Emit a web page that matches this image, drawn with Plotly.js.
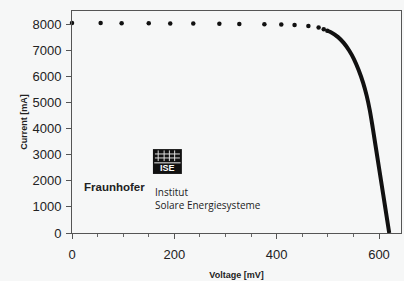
<!DOCTYPE html>
<html>
<head>
<meta charset="utf-8">
<script src="https://cdn.plot.ly/plotly-3.0.1.min.js"></script>
<style>
html,body{margin:0;padding:0;background:#f6f7f7;}
#chart{width:404px;height:281px;}
</style>
</head>
<body>
<div id="chart"></div>
<script>
// Sparse measured points (mV, mA)
var sparseVoltage = [0, 56, 97, 150, 192, 237, 288, 327, 376, 409, 435, 462, 482, 492, 499];
var sparseCurrent = [8040, 8040, 8035, 8030, 8025, 8020, 8015, 8005, 7995, 7980, 7965, 7930, 7870, 7800, 7740];
// Dense measured points near the knee (mV, mA)
var denseVoltage = [499, 506, 520, 531, 542, 551, 560, 569, 576, 582, 588, 596, 604, 612, 620];
var denseCurrent = [7740, 7690, 7500, 7280, 6980, 6660, 6250, 5750, 5250, 4700, 4000, 3000, 2000, 1000, 0];
var xTicks = [0, 200, 400, 600];
var xMinorTicks = [50, 100, 150, 250, 300, 350, 450, 500, 550, 600];
var yTicks = [0, 1000, 2000, 3000, 4000, 5000, 6000, 7000, 8000];

var traces = [
  {x: sparseVoltage, y: sparseCurrent, type: 'scatter', mode: 'markers',
   marker: {color: '#111', size: 4.5}, hoverinfo: 'skip', cliponaxis: false},
  {x: denseVoltage, y: denseCurrent, type: 'scatter', mode: 'lines',
   line: {color: '#111', width: 4, shape: 'spline'}, hoverinfo: 'skip', cliponaxis: false}
];

var tickFont = {family: 'Liberation Sans, Arial, sans-serif', size: 13, color: '#222'};
var bg = '#f6f7f7';

// Logo geometry in paper coordinates
var lx0 = 0.246, lx1 = 0.334, ly0 = 0.266, ly1 = 0.378, lmid = 0.316;
var shapes = [
  {type: 'rect', xref: 'paper', yref: 'paper', x0: lx0, x1: lx1, y0: ly0, y1: ly1,
   fillcolor: '#111', line: {width: 0}}
];
var gxs = [0.262, 0.280, 0.296, 0.312];
gxs.forEach(function(g){
  shapes.push({type:'line', xref:'paper', yref:'paper', x0:g, x1:g, y0:lmid+0.008, y1:ly1-0.006,
    line:{color:'#ddd', width:1}});
});
[0.338, 0.356].forEach(function(g){
  shapes.push({type:'line', xref:'paper', yref:'paper', x0:lx0+0.006, x1:lx1-0.006, y0:g, y1:g,
    line:{color:'#ddd', width:1}});
});
shapes.push({type:'line', xref:'paper', yref:'paper', x0:lx0+0.004, x1:lx1-0.004, y0:lmid, y1:lmid,
  line:{color:'#eee', width:1}});

var annotations = [
  {text: '<b>ISE</b>', xref: 'paper', yref: 'paper', x: (lx0+lx1)/2, y: (ly0+lmid)/2,
   showarrow: false, font: {family: 'Liberation Sans, Arial, sans-serif', size: 9, color: '#fff'},
   xanchor: 'center', yanchor: 'middle'},
  {text: '<b>Fraunhofer</b>', xref: 'paper', yref: 'paper', x: 0.030, y: 0.205,
   showarrow: false, font: {family: 'Liberation Sans, Arial, sans-serif', size: 11.5, color: '#222'},
   xanchor: 'left', yanchor: 'middle'},
  {text: 'Institut', xref: 'paper', yref: 'paper', x: 0.246, y: 0.183,
   showarrow: false, font: {family: 'Open Sans, sans-serif', size: 10, color: '#222'},
   xanchor: 'left', yanchor: 'middle'},
  {text: 'Solare Energiesysteme', xref: 'paper', yref: 'paper', x: 0.246, y: 0.128,
   showarrow: false, font: {family: 'Open Sans, sans-serif', size: 10, color: '#222'},
   xanchor: 'left', yanchor: 'middle'}
];

var layout = {
  width: 404, height: 281,
  margin: {l: 72, r: 3, t: 11, b: 48},
  paper_bgcolor: bg, plot_bgcolor: bg,
  showlegend: false,
  xaxis: {
    range: [0, 643], tickvals: xTicks, ticktext: xTicks.map(String),
    ticks: 'outside', ticklen: 5, tickcolor: '#555', tickwidth: 1, ticklabelstandoff: 4,
    minor: {tickvals: xMinorTicks, ticks: 'outside', ticklen: 3, tickcolor: '#666'},
    showline: true, mirror: true, linecolor: '#555', linewidth: 1,
    showgrid: false, zeroline: false, tickfont: tickFont,
    title: {text: '<b>Voltage [mV]</b>', font: {family: 'Liberation Sans, Arial, sans-serif', size: 9, color: '#222'}, standoff: 11}
  },
  yaxis: {
    range: [0, 8500], tickvals: yTicks, ticktext: yTicks.map(String),
    ticks: 'outside', ticklen: 5, tickcolor: '#555', tickwidth: 1, ticklabelstandoff: 2,
    showline: true, mirror: true, linecolor: '#555', linewidth: 1,
    showgrid: false, zeroline: false, tickfont: tickFont,
    title: {text: '<b>Current [mA]</b>', font: {family: 'Liberation Sans, Arial, sans-serif', size: 9, color: '#222'}, standoff: 3}
  },
  shapes: shapes,
  annotations: annotations
};

Plotly.newPlot('chart', traces, layout, {displayModeBar: false, staticPlot: true});
</script>
</body>
</html>
